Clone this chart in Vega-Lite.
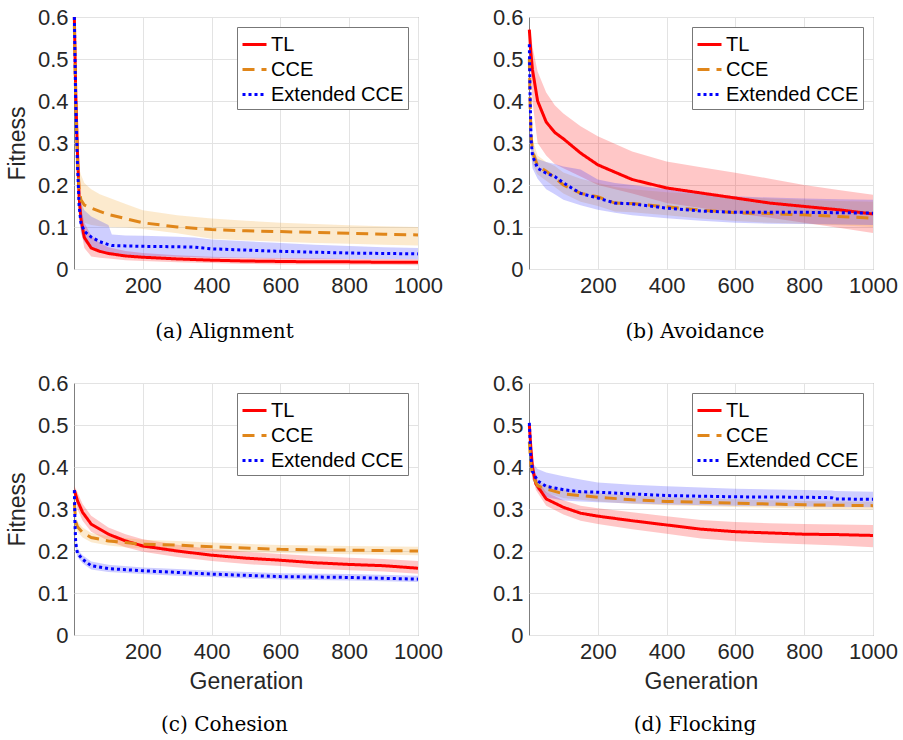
{
  "$schema": "https://vega.github.io/schema/vega-lite/v6.json",
  "background": "white",
  "padding": {"left": 5, "top": 5, "right": 0, "bottom": 0},
  "datasets": {
    "runs": [
      {"p":"a","m":"TL","g":1,"y":0.60,"lo":0.59,"hi":0.60},
      {"p":"a","m":"TL","g":5,"y":0.42,"lo":0.38,"hi":0.46},
      {"p":"a","m":"TL","g":10,"y":0.28,"lo":0.24,"hi":0.32},
      {"p":"a","m":"TL","g":15,"y":0.17,"lo":0.14,"hi":0.21},
      {"p":"a","m":"TL","g":20,"y":0.12,"lo":0.095,"hi":0.15},
      {"p":"a","m":"TL","g":30,"y":0.075,"lo":0.05,"hi":0.11},
      {"p":"a","m":"TL","g":50,"y":0.05,"lo":0.03,"hi":0.08},
      {"p":"a","m":"TL","g":75,"y":0.042,"lo":0.027,"hi":0.062},
      {"p":"a","m":"TL","g":100,"y":0.037,"lo":0.025,"hi":0.052},
      {"p":"a","m":"TL","g":150,"y":0.031,"lo":0.021,"hi":0.043},
      {"p":"a","m":"TL","g":200,"y":0.028,"lo":0.019,"hi":0.038},
      {"p":"a","m":"TL","g":300,"y":0.024,"lo":0.016,"hi":0.033},
      {"p":"a","m":"TL","g":400,"y":0.021,"lo":0.014,"hi":0.029},
      {"p":"a","m":"TL","g":500,"y":0.019,"lo":0.012,"hi":0.027},
      {"p":"a","m":"TL","g":600,"y":0.018,"lo":0.011,"hi":0.026},
      {"p":"a","m":"TL","g":700,"y":0.017,"lo":0.011,"hi":0.025},
      {"p":"a","m":"TL","g":800,"y":0.017,"lo":0.01,"hi":0.024},
      {"p":"a","m":"TL","g":900,"y":0.016,"lo":0.01,"hi":0.024},
      {"p":"a","m":"TL","g":1000,"y":0.016,"lo":0.009,"hi":0.023},

      {"p":"a","m":"CCE","g":1,"y":0.58,"lo":0.55,"hi":0.60},
      {"p":"a","m":"CCE","g":5,"y":0.40,"lo":0.34,"hi":0.45},
      {"p":"a","m":"CCE","g":10,"y":0.26,"lo":0.21,"hi":0.31},
      {"p":"a","m":"CCE","g":15,"y":0.19,"lo":0.15,"hi":0.24},
      {"p":"a","m":"CCE","g":20,"y":0.165,"lo":0.12,"hi":0.225},
      {"p":"a","m":"CCE","g":30,"y":0.152,"lo":0.11,"hi":0.205},
      {"p":"a","m":"CCE","g":50,"y":0.145,"lo":0.105,"hi":0.19},
      {"p":"a","m":"CCE","g":75,"y":0.137,"lo":0.102,"hi":0.178},
      {"p":"a","m":"CCE","g":100,"y":0.13,"lo":0.1,"hi":0.17},
      {"p":"a","m":"CCE","g":150,"y":0.12,"lo":0.099,"hi":0.155},
      {"p":"a","m":"CCE","g":200,"y":0.11,"lo":0.095,"hi":0.14},
      {"p":"a","m":"CCE","g":300,"y":0.10,"lo":0.085,"hi":0.128},
      {"p":"a","m":"CCE","g":400,"y":0.094,"lo":0.072,"hi":0.12},
      {"p":"a","m":"CCE","g":500,"y":0.091,"lo":0.068,"hi":0.115},
      {"p":"a","m":"CCE","g":600,"y":0.089,"lo":0.065,"hi":0.11},
      {"p":"a","m":"CCE","g":700,"y":0.087,"lo":0.062,"hi":0.107},
      {"p":"a","m":"CCE","g":800,"y":0.085,"lo":0.06,"hi":0.104},
      {"p":"a","m":"CCE","g":900,"y":0.083,"lo":0.058,"hi":0.102},
      {"p":"a","m":"CCE","g":1000,"y":0.081,"lo":0.056,"hi":0.1},

      {"p":"a","m":"Extended CCE","g":1,"y":0.60,"lo":0.59,"hi":0.60},
      {"p":"a","m":"Extended CCE","g":5,"y":0.40,"lo":0.35,"hi":0.45},
      {"p":"a","m":"Extended CCE","g":10,"y":0.25,"lo":0.21,"hi":0.30},
      {"p":"a","m":"Extended CCE","g":15,"y":0.15,"lo":0.12,"hi":0.19},
      {"p":"a","m":"Extended CCE","g":20,"y":0.11,"lo":0.085,"hi":0.16},
      {"p":"a","m":"Extended CCE","g":30,"y":0.09,"lo":0.065,"hi":0.14},
      {"p":"a","m":"Extended CCE","g":50,"y":0.076,"lo":0.05,"hi":0.125},
      {"p":"a","m":"Extended CCE","g":75,"y":0.065,"lo":0.042,"hi":0.115},
      {"p":"a","m":"Extended CCE","g":100,"y":0.058,"lo":0.038,"hi":0.105},
      {"p":"a","m":"Extended CCE","g":110,"y":0.056,"lo":0.037,"hi":0.082},
      {"p":"a","m":"Extended CCE","g":150,"y":0.055,"lo":0.034,"hi":0.08},
      {"p":"a","m":"Extended CCE","g":200,"y":0.054,"lo":0.031,"hi":0.079},
      {"p":"a","m":"Extended CCE","g":300,"y":0.053,"lo":0.029,"hi":0.077},
      {"p":"a","m":"Extended CCE","g":350,"y":0.052,"lo":0.028,"hi":0.075},
      {"p":"a","m":"Extended CCE","g":400,"y":0.048,"lo":0.027,"hi":0.07},
      {"p":"a","m":"Extended CCE","g":500,"y":0.045,"lo":0.026,"hi":0.066},
      {"p":"a","m":"Extended CCE","g":600,"y":0.042,"lo":0.025,"hi":0.062},
      {"p":"a","m":"Extended CCE","g":700,"y":0.04,"lo":0.024,"hi":0.058},
      {"p":"a","m":"Extended CCE","g":800,"y":0.038,"lo":0.024,"hi":0.055},
      {"p":"a","m":"Extended CCE","g":900,"y":0.037,"lo":0.024,"hi":0.052},
      {"p":"a","m":"Extended CCE","g":1000,"y":0.036,"lo":0.023,"hi":0.05},

      {"p":"b","m":"TL","g":1,"y":0.57,"lo":0.56,"hi":0.58},
      {"p":"b","m":"TL","g":5,"y":0.52,"lo":0.47,"hi":0.56},
      {"p":"b","m":"TL","g":10,"y":0.475,"lo":0.40,"hi":0.53},
      {"p":"b","m":"TL","g":25,"y":0.40,"lo":0.30,"hi":0.47},
      {"p":"b","m":"TL","g":50,"y":0.35,"lo":0.27,"hi":0.42},
      {"p":"b","m":"TL","g":75,"y":0.325,"lo":0.25,"hi":0.39},
      {"p":"b","m":"TL","g":100,"y":0.31,"lo":0.24,"hi":0.37},
      {"p":"b","m":"TL","g":150,"y":0.276,"lo":0.22,"hi":0.34},
      {"p":"b","m":"TL","g":200,"y":0.248,"lo":0.20,"hi":0.316},
      {"p":"b","m":"TL","g":300,"y":0.213,"lo":0.18,"hi":0.28},
      {"p":"b","m":"TL","g":400,"y":0.193,"lo":0.157,"hi":0.256},
      {"p":"b","m":"TL","g":500,"y":0.181,"lo":0.145,"hi":0.242},
      {"p":"b","m":"TL","g":600,"y":0.169,"lo":0.133,"hi":0.229},
      {"p":"b","m":"TL","g":700,"y":0.157,"lo":0.122,"hi":0.215},
      {"p":"b","m":"TL","g":800,"y":0.149,"lo":0.11,"hi":0.2},
      {"p":"b","m":"TL","g":900,"y":0.141,"lo":0.098,"hi":0.188},
      {"p":"b","m":"TL","g":1000,"y":0.131,"lo":0.086,"hi":0.177},

      {"p":"b","m":"CCE","g":1,"y":0.50,"lo":0.48,"hi":0.52},
      {"p":"b","m":"CCE","g":3,"y":0.40,"lo":0.37,"hi":0.43},
      {"p":"b","m":"CCE","g":6,"y":0.32,"lo":0.29,"hi":0.35},
      {"p":"b","m":"CCE","g":10,"y":0.28,"lo":0.25,"hi":0.31},
      {"p":"b","m":"CCE","g":25,"y":0.245,"lo":0.225,"hi":0.27},
      {"p":"b","m":"CCE","g":50,"y":0.233,"lo":0.21,"hi":0.255},
      {"p":"b","m":"CCE","g":75,"y":0.217,"lo":0.195,"hi":0.245},
      {"p":"b","m":"CCE","g":100,"y":0.2,"lo":0.18,"hi":0.23},
      {"p":"b","m":"CCE","g":150,"y":0.18,"lo":0.16,"hi":0.215},
      {"p":"b","m":"CCE","g":200,"y":0.172,"lo":0.15,"hi":0.205},
      {"p":"b","m":"CCE","g":250,"y":0.157,"lo":0.137,"hi":0.195},
      {"p":"b","m":"CCE","g":300,"y":0.156,"lo":0.135,"hi":0.19},
      {"p":"b","m":"CCE","g":400,"y":0.148,"lo":0.128,"hi":0.183},
      {"p":"b","m":"CCE","g":500,"y":0.14,"lo":0.12,"hi":0.178},
      {"p":"b","m":"CCE","g":600,"y":0.134,"lo":0.114,"hi":0.172},
      {"p":"b","m":"CCE","g":700,"y":0.132,"lo":0.11,"hi":0.168},
      {"p":"b","m":"CCE","g":800,"y":0.129,"lo":0.108,"hi":0.165},
      {"p":"b","m":"CCE","g":900,"y":0.125,"lo":0.104,"hi":0.162},
      {"p":"b","m":"CCE","g":1000,"y":0.121,"lo":0.1,"hi":0.16},

      {"p":"b","m":"Extended CCE","g":1,"y":0.535,"lo":0.52,"hi":0.55},
      {"p":"b","m":"Extended CCE","g":3,"y":0.42,"lo":0.38,"hi":0.45},
      {"p":"b","m":"Extended CCE","g":6,"y":0.31,"lo":0.28,"hi":0.34},
      {"p":"b","m":"Extended CCE","g":10,"y":0.27,"lo":0.24,"hi":0.29},
      {"p":"b","m":"Extended CCE","g":25,"y":0.24,"lo":0.215,"hi":0.262},
      {"p":"b","m":"Extended CCE","g":50,"y":0.228,"lo":0.19,"hi":0.255},
      {"p":"b","m":"Extended CCE","g":75,"y":0.22,"lo":0.178,"hi":0.25},
      {"p":"b","m":"Extended CCE","g":100,"y":0.205,"lo":0.165,"hi":0.244},
      {"p":"b","m":"Extended CCE","g":150,"y":0.18,"lo":0.152,"hi":0.237},
      {"p":"b","m":"Extended CCE","g":200,"y":0.169,"lo":0.141,"hi":0.213},
      {"p":"b","m":"Extended CCE","g":250,"y":0.157,"lo":0.134,"hi":0.205},
      {"p":"b","m":"Extended CCE","g":300,"y":0.155,"lo":0.128,"hi":0.2},
      {"p":"b","m":"Extended CCE","g":400,"y":0.145,"lo":0.121,"hi":0.19},
      {"p":"b","m":"Extended CCE","g":500,"y":0.138,"lo":0.115,"hi":0.18},
      {"p":"b","m":"Extended CCE","g":600,"y":0.135,"lo":0.11,"hi":0.173},
      {"p":"b","m":"Extended CCE","g":700,"y":0.135,"lo":0.108,"hi":0.17},
      {"p":"b","m":"Extended CCE","g":800,"y":0.135,"lo":0.107,"hi":0.168},
      {"p":"b","m":"Extended CCE","g":900,"y":0.134,"lo":0.106,"hi":0.166},
      {"p":"b","m":"Extended CCE","g":1000,"y":0.133,"lo":0.105,"hi":0.165},

      {"p":"c","m":"TL","g":1,"y":0.345,"lo":0.335,"hi":0.355},
      {"p":"c","m":"TL","g":10,"y":0.32,"lo":0.3,"hi":0.34},
      {"p":"c","m":"TL","g":25,"y":0.292,"lo":0.272,"hi":0.312},
      {"p":"c","m":"TL","g":50,"y":0.264,"lo":0.246,"hi":0.284},
      {"p":"c","m":"TL","g":100,"y":0.24,"lo":0.224,"hi":0.256},
      {"p":"c","m":"TL","g":150,"y":0.224,"lo":0.209,"hi":0.24},
      {"p":"c","m":"TL","g":200,"y":0.212,"lo":0.198,"hi":0.228},
      {"p":"c","m":"TL","g":300,"y":0.2,"lo":0.186,"hi":0.215},
      {"p":"c","m":"TL","g":400,"y":0.19,"lo":0.176,"hi":0.205},
      {"p":"c","m":"TL","g":500,"y":0.183,"lo":0.169,"hi":0.198},
      {"p":"c","m":"TL","g":600,"y":0.178,"lo":0.164,"hi":0.193},
      {"p":"c","m":"TL","g":700,"y":0.172,"lo":0.158,"hi":0.188},
      {"p":"c","m":"TL","g":800,"y":0.168,"lo":0.154,"hi":0.184},
      {"p":"c","m":"TL","g":900,"y":0.165,"lo":0.151,"hi":0.181},
      {"p":"c","m":"TL","g":1000,"y":0.159,"lo":0.146,"hi":0.176},

      {"p":"c","m":"CCE","g":1,"y":0.315,"lo":0.305,"hi":0.325},
      {"p":"c","m":"CCE","g":5,"y":0.27,"lo":0.258,"hi":0.283},
      {"p":"c","m":"CCE","g":10,"y":0.258,"lo":0.246,"hi":0.27},
      {"p":"c","m":"CCE","g":25,"y":0.244,"lo":0.232,"hi":0.256},
      {"p":"c","m":"CCE","g":50,"y":0.232,"lo":0.221,"hi":0.243},
      {"p":"c","m":"CCE","g":100,"y":0.224,"lo":0.213,"hi":0.235},
      {"p":"c","m":"CCE","g":150,"y":0.22,"lo":0.209,"hi":0.231},
      {"p":"c","m":"CCE","g":200,"y":0.216,"lo":0.206,"hi":0.227},
      {"p":"c","m":"CCE","g":300,"y":0.214,"lo":0.204,"hi":0.224},
      {"p":"c","m":"CCE","g":400,"y":0.21,"lo":0.2,"hi":0.22},
      {"p":"c","m":"CCE","g":600,"y":0.204,"lo":0.195,"hi":0.214},
      {"p":"c","m":"CCE","g":800,"y":0.202,"lo":0.192,"hi":0.212},
      {"p":"c","m":"CCE","g":1000,"y":0.2,"lo":0.19,"hi":0.21},

      {"p":"c","m":"Extended CCE","g":1,"y":0.345,"lo":0.335,"hi":0.355},
      {"p":"c","m":"Extended CCE","g":3,"y":0.26,"lo":0.25,"hi":0.27},
      {"p":"c","m":"Extended CCE","g":5,"y":0.22,"lo":0.21,"hi":0.23},
      {"p":"c","m":"Extended CCE","g":10,"y":0.195,"lo":0.186,"hi":0.205},
      {"p":"c","m":"Extended CCE","g":25,"y":0.18,"lo":0.171,"hi":0.19},
      {"p":"c","m":"Extended CCE","g":50,"y":0.165,"lo":0.156,"hi":0.175},
      {"p":"c","m":"Extended CCE","g":100,"y":0.158,"lo":0.15,"hi":0.167},
      {"p":"c","m":"Extended CCE","g":200,"y":0.153,"lo":0.145,"hi":0.161},
      {"p":"c","m":"Extended CCE","g":300,"y":0.149,"lo":0.141,"hi":0.157},
      {"p":"c","m":"Extended CCE","g":400,"y":0.145,"lo":0.138,"hi":0.153},
      {"p":"c","m":"Extended CCE","g":600,"y":0.139,"lo":0.132,"hi":0.147},
      {"p":"c","m":"Extended CCE","g":800,"y":0.137,"lo":0.13,"hi":0.145},
      {"p":"c","m":"Extended CCE","g":1000,"y":0.133,"lo":0.126,"hi":0.141},

      {"p":"d","m":"TL","g":1,"y":0.50,"lo":0.49,"hi":0.51},
      {"p":"d","m":"TL","g":5,"y":0.45,"lo":0.43,"hi":0.47},
      {"p":"d","m":"TL","g":10,"y":0.40,"lo":0.38,"hi":0.42},
      {"p":"d","m":"TL","g":20,"y":0.36,"lo":0.345,"hi":0.375},
      {"p":"d","m":"TL","g":50,"y":0.324,"lo":0.308,"hi":0.34},
      {"p":"d","m":"TL","g":100,"y":0.304,"lo":0.287,"hi":0.321},
      {"p":"d","m":"TL","g":150,"y":0.29,"lo":0.272,"hi":0.308},
      {"p":"d","m":"TL","g":200,"y":0.283,"lo":0.264,"hi":0.302},
      {"p":"d","m":"TL","g":300,"y":0.272,"lo":0.252,"hi":0.292},
      {"p":"d","m":"TL","g":400,"y":0.262,"lo":0.241,"hi":0.283},
      {"p":"d","m":"TL","g":500,"y":0.252,"lo":0.23,"hi":0.274},
      {"p":"d","m":"TL","g":600,"y":0.246,"lo":0.223,"hi":0.269},
      {"p":"d","m":"TL","g":700,"y":0.243,"lo":0.219,"hi":0.266},
      {"p":"d","m":"TL","g":800,"y":0.24,"lo":0.216,"hi":0.264},
      {"p":"d","m":"TL","g":900,"y":0.239,"lo":0.213,"hi":0.263},
      {"p":"d","m":"TL","g":1000,"y":0.237,"lo":0.209,"hi":0.262},

      {"p":"d","m":"CCE","g":1,"y":0.46,"lo":0.45,"hi":0.47},
      {"p":"d","m":"CCE","g":5,"y":0.41,"lo":0.40,"hi":0.42},
      {"p":"d","m":"CCE","g":10,"y":0.38,"lo":0.37,"hi":0.39},
      {"p":"d","m":"CCE","g":25,"y":0.355,"lo":0.345,"hi":0.365},
      {"p":"d","m":"CCE","g":50,"y":0.348,"lo":0.338,"hi":0.358},
      {"p":"d","m":"CCE","g":100,"y":0.336,"lo":0.326,"hi":0.346},
      {"p":"d","m":"CCE","g":200,"y":0.328,"lo":0.318,"hi":0.338},
      {"p":"d","m":"CCE","g":300,"y":0.322,"lo":0.312,"hi":0.332},
      {"p":"d","m":"CCE","g":400,"y":0.318,"lo":0.309,"hi":0.328},
      {"p":"d","m":"CCE","g":600,"y":0.314,"lo":0.305,"hi":0.323},
      {"p":"d","m":"CCE","g":800,"y":0.31,"lo":0.301,"hi":0.319},
      {"p":"d","m":"CCE","g":1000,"y":0.308,"lo":0.299,"hi":0.317},

      {"p":"d","m":"Extended CCE","g":1,"y":0.505,"lo":0.495,"hi":0.515},
      {"p":"d","m":"Extended CCE","g":5,"y":0.43,"lo":0.41,"hi":0.45},
      {"p":"d","m":"Extended CCE","g":10,"y":0.39,"lo":0.37,"hi":0.41},
      {"p":"d","m":"Extended CCE","g":25,"y":0.367,"lo":0.345,"hi":0.395},
      {"p":"d","m":"Extended CCE","g":50,"y":0.354,"lo":0.328,"hi":0.387},
      {"p":"d","m":"Extended CCE","g":100,"y":0.346,"lo":0.32,"hi":0.378},
      {"p":"d","m":"Extended CCE","g":150,"y":0.341,"lo":0.318,"hi":0.37},
      {"p":"d","m":"Extended CCE","g":200,"y":0.34,"lo":0.316,"hi":0.363},
      {"p":"d","m":"Extended CCE","g":300,"y":0.336,"lo":0.313,"hi":0.358},
      {"p":"d","m":"Extended CCE","g":400,"y":0.332,"lo":0.311,"hi":0.354},
      {"p":"d","m":"Extended CCE","g":600,"y":0.329,"lo":0.308,"hi":0.348},
      {"p":"d","m":"Extended CCE","g":800,"y":0.328,"lo":0.306,"hi":0.345},
      {"p":"d","m":"Extended CCE","g":880,"y":0.327,"lo":0.305,"hi":0.344},
      {"p":"d","m":"Extended CCE","g":890,"y":0.324,"lo":0.305,"hi":0.343},
      {"p":"d","m":"Extended CCE","g":1000,"y":0.323,"lo":0.304,"hi":0.341}
    ]
  },
  "columns": 2,
  "spacing": {"row": 28, "column": 48},
  "concat": [
    {
      "width": 344, "height": 252,
      "title": {"text": "(a) Alignment", "orient": "bottom", "offset": 26},
      "data": {"name": "runs"},
      "transform": [{"filter": "datum.p === 'a'"}],
      "encoding": {"x": {"field": "g", "type": "quantitative", "scale": {"domain": [0, 1000]}, "axis": {"title": null, "values": [200, 400, 600, 800, 1000]}}},
      "layer": [
        {"mark": {"type": "area", "fillOpacity": 0.22}, "encoding": {"y": {"field": "lo", "type": "quantitative", "scale": {"domain": [0, 0.6]}, "axis": {"title": "Fitness"}}, "y2": {"field": "hi"}, "fill": {"field": "m", "type": "nominal", "scale": {"domain": ["TL", "CCE", "Extended CCE"], "range": ["#ff0000", "#f0a020", "#2020ff"]}, "legend": null}}},
        {"mark": {"type": "line", "strokeWidth": 3, "strokeCap": "butt"}, "encoding": {"y": {"field": "y", "type": "quantitative", "axis": {"title": "Fitness"}}, "stroke": {"field": "m", "type": "nominal", "scale": {"domain": ["TL", "CCE", "Extended CCE"], "range": ["#ff0000", "#e0861a", "#0000ff"]}}, "strokeDash": {"field": "m", "type": "nominal", "scale": {"domain": ["TL", "CCE", "Extended CCE"], "range": [[1, 0], [12, 7], [3, 3]]}}}}
      ]
    },
    {
      "width": 344, "height": 252,
      "title": {"text": "(b) Avoidance", "orient": "bottom", "offset": 26},
      "data": {"name": "runs"},
      "transform": [{"filter": "datum.p === 'b'"}],
      "encoding": {"x": {"field": "g", "type": "quantitative", "scale": {"domain": [0, 1000]}, "axis": {"title": null, "values": [200, 400, 600, 800, 1000]}}},
      "layer": [
        {"mark": {"type": "area", "fillOpacity": 0.22}, "encoding": {"y": {"field": "lo", "type": "quantitative", "scale": {"domain": [0, 0.6]}, "axis": {"title": null}}, "y2": {"field": "hi"}, "fill": {"field": "m", "type": "nominal", "scale": {"domain": ["TL", "CCE", "Extended CCE"], "range": ["#ff0000", "#f0a020", "#2020ff"]}, "legend": null}}},
        {"mark": {"type": "line", "strokeWidth": 3, "strokeCap": "butt"}, "encoding": {"y": {"field": "y", "type": "quantitative", "axis": {"title": null}}, "stroke": {"field": "m", "type": "nominal", "scale": {"domain": ["TL", "CCE", "Extended CCE"], "range": ["#ff0000", "#e0861a", "#0000ff"]}}, "strokeDash": {"field": "m", "type": "nominal", "scale": {"domain": ["TL", "CCE", "Extended CCE"], "range": [[1, 0], [12, 7], [3, 3]]}}}}
      ]
    },
    {
      "width": 344, "height": 252,
      "title": {"text": "(c) Cohesion", "orient": "bottom", "offset": 22},
      "data": {"name": "runs"},
      "transform": [{"filter": "datum.p === 'c'"}],
      "encoding": {"x": {"field": "g", "type": "quantitative", "scale": {"domain": [0, 1000]}, "axis": {"title": "Generation", "values": [200, 400, 600, 800, 1000]}}},
      "layer": [
        {"mark": {"type": "area", "fillOpacity": 0.22}, "encoding": {"y": {"field": "lo", "type": "quantitative", "scale": {"domain": [0, 0.6]}, "axis": {"title": "Fitness"}}, "y2": {"field": "hi"}, "fill": {"field": "m", "type": "nominal", "scale": {"domain": ["TL", "CCE", "Extended CCE"], "range": ["#ff0000", "#f0a020", "#2020ff"]}, "legend": null}}},
        {"mark": {"type": "line", "strokeWidth": 3, "strokeCap": "butt"}, "encoding": {"y": {"field": "y", "type": "quantitative", "axis": {"title": "Fitness"}}, "stroke": {"field": "m", "type": "nominal", "scale": {"domain": ["TL", "CCE", "Extended CCE"], "range": ["#ff0000", "#e0861a", "#0000ff"]}}, "strokeDash": {"field": "m", "type": "nominal", "scale": {"domain": ["TL", "CCE", "Extended CCE"], "range": [[1, 0], [12, 7], [3, 3]]}}}}
      ]
    },
    {
      "width": 344, "height": 252,
      "title": {"text": "(d) Flocking", "orient": "bottom", "offset": 22},
      "data": {"name": "runs"},
      "transform": [{"filter": "datum.p === 'd'"}],
      "encoding": {"x": {"field": "g", "type": "quantitative", "scale": {"domain": [0, 1000]}, "axis": {"title": "Generation", "values": [200, 400, 600, 800, 1000]}}},
      "layer": [
        {"mark": {"type": "area", "fillOpacity": 0.22}, "encoding": {"y": {"field": "lo", "type": "quantitative", "scale": {"domain": [0, 0.6]}, "axis": {"title": null}}, "y2": {"field": "hi"}, "fill": {"field": "m", "type": "nominal", "scale": {"domain": ["TL", "CCE", "Extended CCE"], "range": ["#ff0000", "#f0a020", "#2020ff"]}, "legend": null}}},
        {"mark": {"type": "line", "strokeWidth": 3, "strokeCap": "butt"}, "encoding": {"y": {"field": "y", "type": "quantitative", "axis": {"title": null}}, "stroke": {"field": "m", "type": "nominal", "scale": {"domain": ["TL", "CCE", "Extended CCE"], "range": ["#ff0000", "#e0861a", "#0000ff"]}}, "strokeDash": {"field": "m", "type": "nominal", "scale": {"domain": ["TL", "CCE", "Extended CCE"], "range": [[1, 0], [12, 7], [3, 3]]}}}}
      ]
    }
  ],
  "resolve": {
    "scale": {"x": "independent", "y": "independent"},
    "legend": {"stroke": "independent", "strokeDash": "independent"}
  },
  "config": {
    "view": {"stroke": "#7f7f7f", "strokeWidth": 1},
    "axis": {
      "labelFont": "Liberation Sans", "labelFontSize": 22, "labelColor": "#262626",
      "titleFont": "Liberation Sans", "titleFontSize": 23, "titleFontWeight": "normal", "titleColor": "#262626",
      "grid": true, "gridColor": "#e3e3e3", "domain": false, "ticks": false,
      "labelPadding": 6, "titlePadding": 8, "labelFlush": false, "labelOverlap": false
    },
    "axisX": {"format": "d"},
    "axisY": {"values": [0, 0.1, 0.2, 0.3, 0.4, 0.5, 0.6], "format": ".1~f"},
    "title": {"font": "DejaVu Serif", "fontSize": 20, "fontWeight": "normal", "color": "black", "anchor": "middle", "frame": "bounds"},
    "legend": {
      "orient": "top-right", "offset": 10, "title": null,
      "symbolType": "stroke", "symbolSize": 576, "symbolStrokeWidth": 3,
      "labelFont": "Liberation Sans", "labelFontSize": 20, "labelColor": "black", "labelLimit": 300,
      "labelOffset": 3, "rowPadding": 1, "padding": 4,
      "fillColor": "white", "strokeColor": "#777777"
    }
  }
}
